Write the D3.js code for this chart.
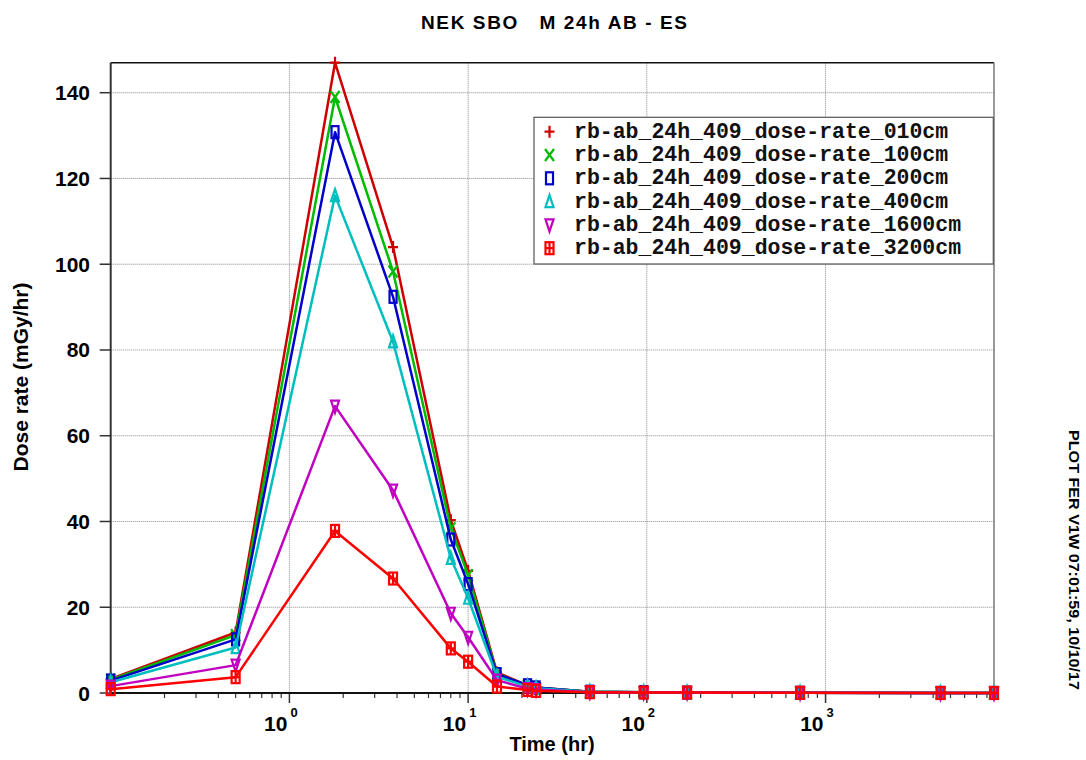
<!DOCTYPE html>
<html><head><meta charset="utf-8">
<script src="https://cdn.jsdelivr.net/npm/d3@7"></script>
<style>body{margin:0;background:#fff}svg{display:block}</style>
</head><body>
<svg id="c" width="1086" height="760"></svg>
<script>
const times = [0.1, 0.5, 1.8, 3.8, 8, 10, 14.5, 21.5, 24, 48, 96, 168, 720, 4400, 8760];
const s010  = [3.3, 14.1, 147, 104, 40.3, 28.5, 4.8, 1.8, 1.3, 0.3, 0.2, 0.1, 0.05, 0.01, 0.01];
const s100  = [3.1, 13.5, 139, 98.3, 38.4, 27.5, 4.5, 1.7, 1.2, 0.3, 0.2, 0.1, 0.05, 0.01, 0.01];
const s200  = [2.9, 12.5, 130.8, 92.4, 35.8, 25.4, 4.4, 1.8, 1.3, 0.3, 0.2, 0.1, 0.05, 0.01, 0.01];
const s400  = [2.5, 10.6, 116, 81.9, 31.4, 22.1, 3.8, 1.5, 1.1, 0.3, 0.2, 0.1, 0.05, 0.01, 0.01];
const s1600 = [1.6, 6.5, 66.9, 47.3, 18.6, 13.0, 3.0, 1.0, 0.8, 0.2, 0.1, 0.1, 0.05, 0.01, 0.01];
const s3200 = [0.9, 3.7, 37.8, 26.7, 10.4, 7.3, 1.5, 0.7, 0.5, 0.2, 0.1, 0.1, 0.05, 0.01, 0.01];
const seriesNames = ["rb-ab_24h_409_dose-rate_010cm","rb-ab_24h_409_dose-rate_100cm","rb-ab_24h_409_dose-rate_200cm","rb-ab_24h_409_dose-rate_400cm","rb-ab_24h_409_dose-rate_1600cm","rb-ab_24h_409_dose-rate_3200cm"];
const seriesColors = ["#cc0000","#00bb00","#0000c8","#00bebe","#c000c0","#ff0000"];
const seriesMarkers = ["plus","cross","rect","triUp","triDown","boxPlus"];
const yTicks = [0,20,40,60,80,100,120,140];
const xTickExps = [0,1,2,3];
const title = "NEK SBO   M 24h AB - ES";
const xLabel = "Time (hr)";
const yLabel = "Dose rate (mGy/hr)";
const sideNote = "PLOT FER V1W 07:01:59, 10/10/17";

const values = [s010,s100,s200,s400,s1600,s3200];
const svg = d3.select("#c");
const L = 110.7, R = 994, T = 62.7, B = 693;
const x = d3.scaleLog().domain([0.1, 8760]).range([L, R]);
const y = d3.scaleLinear().domain([0, 147]).range([B, T]);
const font = "'Liberation Sans', Arial, sans-serif";

// grid
const g = svg.append("g");
g.selectAll(".hg").data(yTicks.filter(d=>d>0)).enter().append("line")
  .attr("x1", L).attr("x2", R).attr("y1", d=>y(d)).attr("y2", d=>y(d))
  .attr("stroke", "#8a8a8a").attr("stroke-width", 1).attr("stroke-dasharray", "1,1");
g.selectAll(".vg").data(xTickExps).enter().append("line")
  .attr("x1", d=>x(Math.pow(10,d))).attr("x2", d=>x(Math.pow(10,d))).attr("y1", T).attr("y2", B)
  .attr("stroke", "#8a8a8a").attr("stroke-width", 1).attr("stroke-dasharray", "1,1");

// frame
svg.append("line").attr("x1", L).attr("x2", R).attr("y1", T).attr("y2", T).attr("stroke", "#111").attr("stroke-width", 1.5);
svg.append("line").attr("x1", R).attr("x2", R).attr("y1", T).attr("y2", B).attr("stroke", "#777").attr("stroke-width", 1.5);

// y axis
svg.append("line").attr("x1", L).attr("x2", L).attr("y1", T).attr("y2", B).attr("stroke", "#333").attr("stroke-width", 2);
svg.selectAll(".yt").data(yTicks).enter().append("line")
  .attr("x1", L-11).attr("x2", L).attr("y1", d=>y(d)).attr("y2", d=>y(d)).attr("stroke", "#333").attr("stroke-width", 1.5);
svg.selectAll(".yl").data(yTicks).enter().append("text")
  .attr("x", 90).attr("y", d=>y(d)+7.5).attr("text-anchor", "end")
  .attr("font-family", font).attr("font-weight", "bold").attr("font-size", 21).text(d=>d);

// x axis
const minor = [];
for (let e=-1; e<4; e++) for (let k=2; k<10; k++) { const v=k*Math.pow(10,e); if (v>=0.1 && v<=8760) minor.push(v); }
svg.selectAll(".xm").data(minor).enter().append("line")
  .attr("x1", d=>x(d)).attr("x2", d=>x(d)).attr("y1", B).attr("y2", B+5).attr("stroke", "#333").attr("stroke-width", 1.2);
svg.selectAll(".xM").data(xTickExps).enter().append("line")
  .attr("x1", d=>x(Math.pow(10,d))).attr("x2", d=>x(Math.pow(10,d))).attr("y1", B).attr("y2", B+10).attr("stroke", "#333").attr("stroke-width", 1.5);
const xl = svg.selectAll(".xl").data(xTickExps).enter().append("g");
xl.append("text").attr("x", d=>x(Math.pow(10,d))-2).attr("y", 731).attr("text-anchor","end")
  .attr("font-family", font).attr("font-weight","bold").attr("font-size",21).text("10");
xl.append("text").attr("x", d=>x(Math.pow(10,d))+1).attr("y", 717).attr("text-anchor","start")
  .attr("font-family", font).attr("font-weight","bold").attr("font-size",13).text(d=>d);
svg.append("line").attr("x1", L).attr("x2", R).attr("y1", B).attr("y2", B).attr("stroke", "#111").attr("stroke-width", 2);

// series
function marker(sel, type, color) {
  sel.each(function(){
    const m = d3.select(this);
    const st = {stroke: color, "stroke-width": 2.2, fill: "none"};
    const ap = (el)=>{ for (const k in st) el.attr(k, st[k]); return el; };
    if (type==="plus") { ap(m.append("path").attr("d","M-5,0H5M0,-6V6")); }
    else if (type==="cross") { ap(m.append("path").attr("d","M-4.5,-6L4.5,6M-4.5,6L4.5,-6")); }
    else if (type==="rect") { ap(m.append("rect").attr("x",-3.5).attr("y",-6).attr("width",7).attr("height",12)); }
    else if (type==="triUp") { ap(m.append("path").attr("d","M0,-6.5L4,5.5H-4Z")); }
    else if (type==="triDown") { ap(m.append("path").attr("d","M-4,-5.5H4L0,6.5Z")); }
    else if (type==="boxPlus") { ap(m.append("rect").attr("x",-4).attr("y",-6).attr("width",8).attr("height",12)); ap(m.append("path").attr("d","M-4,0H4M0,-6V6")); }
  });
}
const line = d3.line().x(d=>x(d[0])).y(d=>y(d[1]));
values.forEach((vals, i) => {
  const pts = times.map((t,j)=>[t, vals[j]]);
  svg.append("path").datum(pts).attr("d", line).attr("fill","none")
    .attr("stroke", seriesColors[i]).attr("stroke-width", 2.5).attr("stroke-linejoin","round");
  const mk = svg.selectAll(".m"+i).data(pts).enter().append("g")
    .attr("transform", d=>`translate(${x(d[0])},${y(d[1])})`);
  marker(mk, seriesMarkers[i], seriesColors[i]);
});

// legend
const lg = svg.append("g");
lg.append("rect").attr("x", 534).attr("y", 117.3).attr("width", 459.3).attr("height", 146.7)
  .attr("fill", "#fff").attr("stroke", "#555").attr("stroke-width", 1.2);
seriesNames.forEach((n,i)=>{
  const cy = 131.7 + i*23.3;
  const mg = lg.append("g").attr("transform", `translate(549.5,${cy})`);
  marker(mg, seriesMarkers[i], seriesColors[i]);
  lg.append("text").attr("x", 574).attr("y", cy+6).attr("font-family","'Liberation Mono', 'Courier New', monospace")
    .attr("font-weight","bold").attr("font-size", 21.5).attr("fill","#111").text(n);
});

// titles
svg.append("text").attr("x", 554).attr("y", 29).attr("text-anchor","middle")
  .style("white-space","pre").attr("xml:space","preserve")
  .attr("font-family", font).attr("font-weight","bold").attr("font-size", 19)
  .attr("textLength", 266).attr("lengthAdjust","spacing").text(title);
svg.append("text").attr("x", 552).attr("y", 751).attr("text-anchor","middle")
  .attr("font-family", font).attr("font-weight","bold").attr("font-size", 20).text(xLabel);
svg.append("text").attr("transform","translate(28,377) rotate(-90)").attr("text-anchor","middle")
  .attr("font-family", font).attr("font-weight","bold").attr("font-size", 21).text(yLabel);
svg.append("text").attr("transform","translate(1069,430) rotate(90)").attr("text-anchor","start")
  .attr("font-family", font).attr("font-weight","bold").attr("font-size", 15)
  .attr("textLength", 260).attr("lengthAdjust","spacingAndGlyphs").text(sideNote);
</script>
</body></html>
